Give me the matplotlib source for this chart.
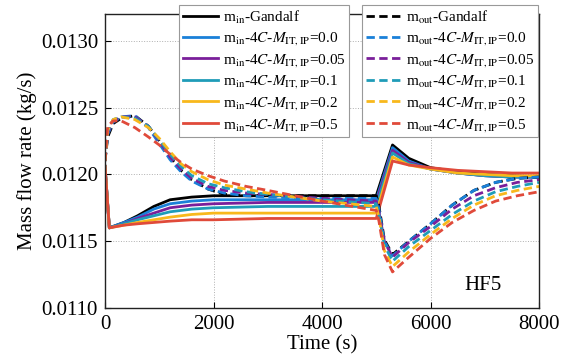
import numpy as np
import matplotlib
matplotlib.use('Agg')
import matplotlib.pyplot as plt

# --- 字体: Times 风格 ---
plt.rcParams['font.family'] = ['Liberation Serif', 'DejaVu Serif']
plt.rcParams['mathtext.fontset'] = 'stix'

# --- 数据 ---
t_in = [0, 80, 350, 600, 900, 1200, 1600, 2000, 3000, 5000,
        5300, 5600, 6000, 6500, 7000, 7500, 8000]
min_gandalf = [0.01206, 0.01160, 0.01164, 0.01169, 0.01176, 0.01181, 0.01183, 0.01184, 0.01184, 0.01184,
               0.01222, 0.01212, 0.01205, 0.01202, 0.01200, 0.01199, 0.01198]
min_m00 = [0.01206, 0.01160, 0.01164, 0.01168, 0.01174, 0.01178, 0.01180, 0.01181, 0.01181, 0.01181,
           0.01220, 0.01210, 0.01204, 0.01201, 0.01199, 0.01198, 0.01198]
min_m005 = [0.01206, 0.01160, 0.01163, 0.01167, 0.01171, 0.01175, 0.01177, 0.01178, 0.01179, 0.01179,
            0.01218, 0.01209, 0.01204, 0.01201, 0.01199, 0.01198, 0.01198]
min_m01 = [0.01206, 0.01160, 0.01163, 0.01166, 0.01169, 0.01172, 0.01174, 0.01175, 0.01176, 0.01176,
           0.01216, 0.01208, 0.01204, 0.01201, 0.01199, 0.01198, 0.01198]
min_m02 = [0.01206, 0.01160, 0.01162, 0.01164, 0.01166, 0.01168, 0.01170, 0.01171, 0.01171, 0.01171,
           0.01213, 0.01207, 0.01204, 0.01201, 0.01200, 0.01199, 0.01199]
min_m05 = [0.01206, 0.01160, 0.01162, 0.01163, 0.01164, 0.01165, 0.01166, 0.01166, 0.01167, 0.01167,
           0.01210, 0.01207, 0.01205, 0.01203, 0.01202, 0.01201, 0.01201]

t_out = [0, 50, 150, 300, 550, 800, 1000, 1200, 1400, 1600, 1900, 2200, 2600, 3000, 4000, 5000,
         5050, 5150, 5300, 5600, 6000, 6400, 6800, 7200, 7600, 8000]
mout_gandalf = [0.01210, 0.01228, 0.01238, 0.01242, 0.01244, 0.01236, 0.01225, 0.01213, 0.01203, 0.01196,
                0.01189, 0.01185, 0.01184, 0.01184, 0.01184, 0.01184,
                0.01176, 0.01151, 0.01140, 0.01150, 0.01163, 0.01177, 0.01188, 0.01194, 0.01197, 0.01198]
mout_m00 = [0.01210, 0.01230, 0.01239, 0.01243, 0.01244, 0.01235, 0.01223, 0.01211, 0.01202, 0.01195,
            0.01189, 0.01186, 0.01184, 0.01183, 0.01182, 0.01182,
            0.01174, 0.01150, 0.01139, 0.01150, 0.01163, 0.01177, 0.01188, 0.01194, 0.01197, 0.01198]
mout_m005 = [0.01210, 0.01231, 0.01240, 0.01243, 0.01243, 0.01236, 0.01225, 0.01213, 0.01204, 0.01197,
             0.01191, 0.01188, 0.01186, 0.01185, 0.01182, 0.01180,
             0.01172, 0.01150, 0.01138, 0.01149, 0.01161, 0.01174, 0.01184, 0.01190, 0.01194, 0.01196]
mout_m01 = [0.01210, 0.01232, 0.01241, 0.01243, 0.01242, 0.01236, 0.01226, 0.01215, 0.01206, 0.01199,
            0.01193, 0.01190, 0.01187, 0.01185, 0.01181, 0.01178,
            0.01170, 0.01147, 0.01135, 0.01146, 0.01158, 0.01170, 0.01180, 0.01187, 0.01191, 0.01194]
mout_m02 = [0.01210, 0.01233, 0.01241, 0.01243, 0.01241, 0.01235, 0.01227, 0.01217, 0.01208, 0.01202,
            0.01196, 0.01192, 0.01189, 0.01186, 0.01180, 0.01176,
            0.01168, 0.01143, 0.01131, 0.01142, 0.01155, 0.01167, 0.01177, 0.01184, 0.01188, 0.01191]
mout_m05 = [0.01210, 0.01236, 0.01240, 0.01240, 0.01235, 0.01228, 0.01222, 0.01215, 0.01209, 0.01204,
            0.01199, 0.01195, 0.01191, 0.01188, 0.01180, 0.01173,
            0.01165, 0.01140, 0.01127, 0.01138, 0.01152, 0.01164, 0.01173, 0.01180, 0.01184, 0.01187]

m_values = ['0.0', '0.05', '0.1', '0.2', '0.5']
colors = ['#000000', '#1a80d8', '#7a1f9a', '#1f9cb8', '#f8b81c', '#e04a3a']
series_in = [min_gandalf, min_m00, min_m005, min_m01, min_m02, min_m05]
series_out = [mout_gandalf, mout_m00, mout_m005, mout_m01, mout_m02, mout_m05]

labels_in = [r'm$_{\mathrm{in}}$-Gandalf'] + \
    [r'm$_{\mathrm{in}}$-4$C$-$M_{\mathrm{IT,IP}}$=' + m for m in m_values]
labels_out = [r'm$_{\mathrm{out}}$-Gandalf'] + \
    [r'm$_{\mathrm{out}}$-4$C$-$M_{\mathrm{IT,IP}}$=' + m for m in m_values]

# --- 绘图 ---
fig = plt.figure(figsize=(5.65, 3.64), dpi=100)
ax = fig.add_axes([105 / 565, 1 - 308 / 364, 434 / 565, 294 / 364])

lw = 2.0
h_in, h_out = [], []
for y, c, lab in zip(series_in, colors, labels_in):
    h, = ax.plot(t_in, y, '-', color=c, lw=lw, label=lab)
    h_in.append(h)
for y, c, lab in zip(series_out, colors, labels_out):
    h, = ax.plot(t_out, y, '--', color=c, lw=lw, dashes=(3, 1.6), label=lab)
    h_out.append(h)

ax.set_xlim(0, 8000)
ax.set_ylim(0.0110, 0.01320)
ax.set_xticks([0, 2000, 4000, 6000, 8000])
ax.set_yticks([0.0110, 0.0115, 0.0120, 0.0125, 0.0130])
ax.yaxis.set_major_formatter(matplotlib.ticker.FormatStrFormatter('%.4f'))
ax.tick_params(direction='in', labelsize=15, pad=5, length=4)
ax.grid(True, linestyle=':', color='#b0b0b0', lw=0.7)
for s in ax.spines.values():
    s.set_linewidth(1.0)
    s.set_color('#222222')

ax.set_xlabel('Time (s)', fontsize=15, labelpad=1)
ax.set_ylabel('Mass flow rate (kg/s)', fontsize=15, labelpad=3)
ax.text(0.871, 0.078, 'HF5', transform=ax.transAxes, fontsize=15,
        ha='center', va='center')

leg_kw = dict(fontsize=11, loc='upper left', bbox_transform=fig.transFigure,
              borderaxespad=0, fancybox=False, framealpha=1, edgecolor='#999999',
              handlelength=2.3, handletextpad=0.3, labelspacing=0.3, borderpad=0.25)
leg1 = fig.legend(handles=h_in, bbox_to_anchor=(179 / 565, 1 - 5 / 364), **leg_kw)
leg2 = fig.legend(handles=h_out, bbox_to_anchor=(362 / 565, 1 - 5 / 364), **leg_kw)
for leg in (leg1, leg2):
    leg.get_frame().set_linewidth(0.8)

fig.savefig('out.png', dpi=100)
